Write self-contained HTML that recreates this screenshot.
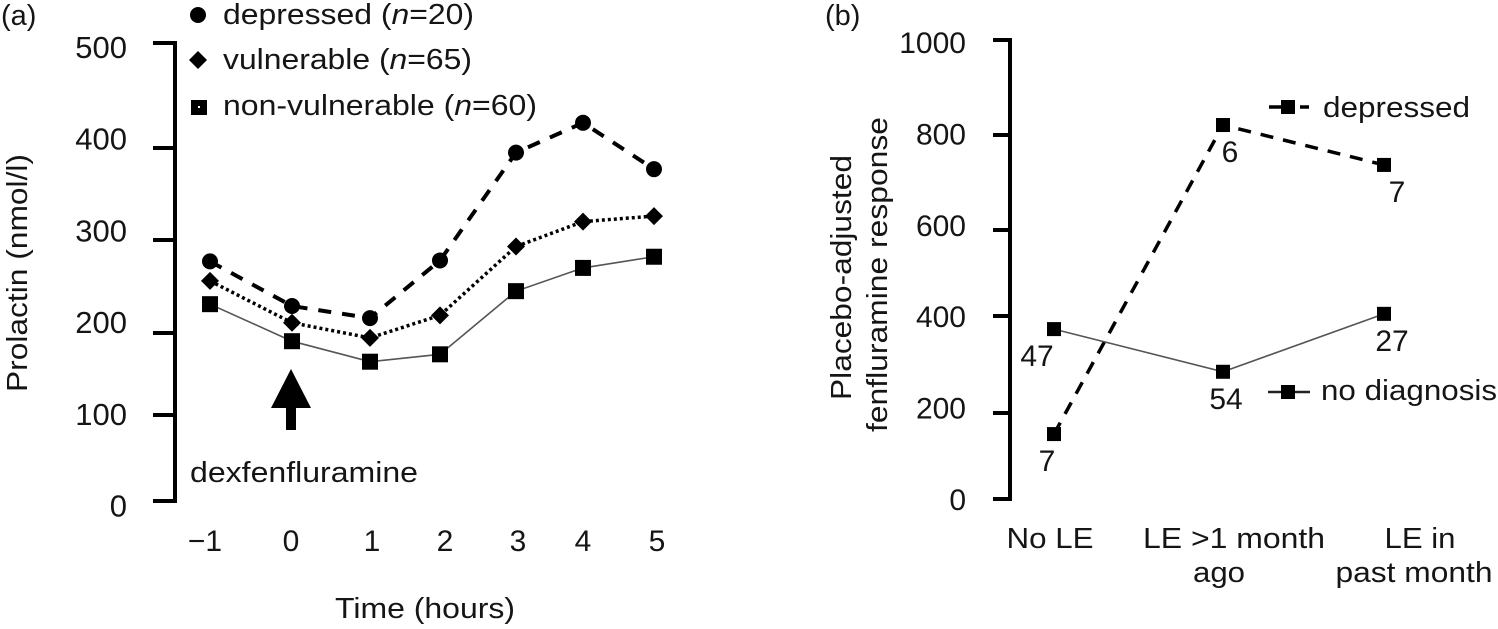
<!DOCTYPE html>
<html>
<head>
<meta charset="utf-8">
<title>Prolactin response and placebo-adjusted fenfluramine response</title>
<style>
html,body{margin:0;padding:0;background:#fff;}
svg{display:block;}
text{font-family:"Liberation Sans",sans-serif;font-size:29px;fill:#151515;}
</style>
</head>
<body>
<svg id="figure" xmlns="http://www.w3.org/2000/svg" width="1498" height="629" viewBox="0 0 1498 629">
  <text x="1" y="25">(a)</text>
  <text x="825" y="25">(b)</text>

  <text transform="translate(27,392) rotate(-90)" textLength="238" lengthAdjust="spacingAndGlyphs">Prolactin (nmol/l)</text>
  <text x="425" y="618" text-anchor="middle" textLength="180" lengthAdjust="spacingAndGlyphs">Time (hours)</text>
  <text x="190" y="482" textLength="228" lengthAdjust="spacingAndGlyphs">dexfenfluramine</text>
  <path d="M291 369 L311 408 L296 408 L296 430 L286 430 L286 408 L271 408 Z" fill="#000"/>

  <g>
    <circle cx="198" cy="15" r="8" fill="#000"/>
    <text x="223" y="24" textLength="251" lengthAdjust="spacingAndGlyphs">depressed (<tspan font-style="italic">n</tspan>=20)</text>
    <path d="M198 51 L207 60 L198 69 L189 60 Z" fill="#000"/>
    <text x="223" y="69" textLength="249" lengthAdjust="spacingAndGlyphs">vulnerable (<tspan font-style="italic">n</tspan>=65)</text>
    <rect x="191" y="100" width="16" height="15" fill="#000"/>
    <rect x="198" y="106" width="2" height="2" fill="#fff"/>
    <text x="223" y="115" textLength="314" lengthAdjust="spacingAndGlyphs">non-vulnerable (<tspan font-style="italic">n</tspan>=60)</text>
  </g>

  <text transform="translate(851,400) rotate(-90)" textLength="245" lengthAdjust="spacingAndGlyphs">Placebo-adjusted</text>
  <text transform="translate(887,432) rotate(-90)" textLength="315" lengthAdjust="spacingAndGlyphs">fenfluramine response</text>

  <g>
    <line x1="1269" y1="107" x2="1309" y2="107" stroke="#000" stroke-width="3.5" stroke-dasharray="22 9 9 0"/>
    <rect x="1281" y="100" width="14" height="14" fill="#000"/>
    <text x="1323" y="117" textLength="147" lengthAdjust="spacingAndGlyphs">depressed</text>
    <line x1="1268" y1="392" x2="1310" y2="392" stroke="#222" stroke-width="2.5"/>
    <rect x="1281" y="385" width="14" height="14" fill="#000"/>
    <text x="1321" y="400" textLength="176" lengthAdjust="spacingAndGlyphs">no diagnosis</text>
  </g>

  <g>
    <text x="1050" y="548" text-anchor="middle" textLength="87" lengthAdjust="spacingAndGlyphs">No LE</text>
    <text x="1234" y="548" text-anchor="middle" textLength="182" lengthAdjust="spacingAndGlyphs">LE &gt;1 month</text>
    <text x="1219" y="582" text-anchor="middle" textLength="52" lengthAdjust="spacingAndGlyphs">ago</text>
    <text x="1420" y="548" text-anchor="middle" textLength="71" lengthAdjust="spacingAndGlyphs">LE in</text>
    <text x="1414" y="582" text-anchor="middle" textLength="157" lengthAdjust="spacingAndGlyphs">past month</text>
  </g>
</svg>

<script>
// Panel (a) data
const hours = [-1, 0, 1, 2, 3, 4, 5];
const hourLabels = ['\u22121', '0', '1', '2', '3', '4', '5'];
const prolactinTicks = [0, 100, 200, 300, 400, 500];
const depressedProlactin = [277, 229, 216, 278, 395, 424, 377];
const vulnerableProlactin = [256, 211, 194, 219, 293, 320, 326];
const nonVulnerableProlactin = [231, 190, 165, 174, 245, 270, 282];

// Panel (b) data
const lifeEvents = ['No LE', 'LE >1 month ago', 'LE in past month'];
const responseTicks = [0, 200, 400, 600, 800, 1000];
const depressedResponse = [151, 821, 737];
const noDiagnosisResponse = [373, 285, 405];
const depressedCounts = [7, 6, 7];
const noDiagnosisCounts = [47, 54, 27];

const svg = document.getElementById('figure');
const NS = 'http://www.w3.org/2000/svg';

function mk(tag, attrs, parent) {
  const el = document.createElementNS(NS, tag);
  for (const k in attrs) el.setAttribute(k, attrs[k]);
  (parent || svg).appendChild(el);
  return el;
}

// The scanned axes are slightly uneven, so each axis is a piecewise scale.
function piecewise(domain, range) {
  return function (v) {
    let i = 0;
    while (i < domain.length - 2 && v > domain[i + 1]) i++;
    const t = (v - domain[i]) / (domain[i + 1] - domain[i]);
    return range[i] + t * (range[i + 1] - range[i]);
  };
}

const xA = piecewise(hours, [210, 292, 370, 440, 516, 583, 654]);
const xALabel = piecewise(hours, [205, 291, 372, 445, 518, 583, 657]);
const yA = piecewise(prolactinTicks, [501, 415, 333, 240, 148, 43]);
const yALabel = function (v) { return 516.5 - v * 0.917; };
const xB = piecewise([0, 1, 2], [1054, 1223, 1384]);
const yB = piecewise(responseTicks, [499, 413, 316, 230, 135, 40]);
const yBLabel = function (v) { return 510 - v * 0.457; };

function polyPoints(values, xs, xf, yf) {
  return values.map(function (v, i) { return xf(xs[i]) + ',' + yf(v); }).join(' ');
}

// Panel (a) axis
const axisA = mk('g', {});


const axisALine = mk('line', {x1: 175, x2: 175, y1: yA(500) - 2, y2: yA(0) + 2, stroke: '#000', 'stroke-width': 4}, axisA);


prolactinTicks.forEach(function (t) {
  const tick = mk('line', {x1: 153, x2: 175, y1: yA(t), y2: yA(t), stroke: '#000', 'stroke-width': 4}, axisA);
  
  
  const lab = mk('text', {x: 127, y: yALabel(t), 'text-anchor': 'end', style: 'font-size:31px'}, axisA);
  lab.textContent = t;
  
  
});
hours.forEach(function (h, i) {
  const lab = mk('text', {x: xALabel(h), y: 551, 'text-anchor': 'middle', style: 'font-size:30px'});
  lab.textContent = hourLabels[i];
  
  
});

// Panel (a) series
const lineDep = mk('polyline', {points: polyPoints(depressedProlactin, hours, xA, yA), fill: 'none', stroke: '#000', 'stroke-width': 4, 'stroke-dasharray': '13 11'});


const lineVul = mk('polyline', {points: polyPoints(vulnerableProlactin, hours, xA, yA), fill: 'none', stroke: '#000', 'stroke-width': 3.5, 'stroke-dasharray': '3 3'});


const lineNon = mk('polyline', {points: polyPoints(nonVulnerableProlactin, hours, xA, yA), fill: 'none', stroke: '#555', 'stroke-width': 1.6});



hours.forEach(function (h, i) {
  const px = xA(h);
  const c = mk('circle', {cx: px, cy: yA(depressedProlactin[i]), r: 8, fill: '#000'});
  
  
  const dy = yA(vulnerableProlactin[i]);
  const d = mk('path', {d: 'M' + px + ' ' + (dy - 9) + ' L' + (px + 9) + ' ' + dy + ' L' + px + ' ' + (dy + 9) + ' L' + (px - 9) + ' ' + dy + ' Z', fill: '#000'});
  
  
  const s = mk('rect', {x: px - 8, y: yA(nonVulnerableProlactin[i]) - 8, width: 16, height: 16, fill: '#000'});
  
  
});

// Panel (b) axis
const axisB = mk('g', {});


const axisBLine = mk('line', {x1: 1010, x2: 1010, y1: yB(1000) - 2, y2: yB(0) + 2, stroke: '#000', 'stroke-width': 4}, axisB);


responseTicks.forEach(function (t) {
  const tick = mk('line', {x1: 993, x2: 1010, y1: yB(t), y2: yB(t), stroke: '#000', 'stroke-width': 4}, axisB);
  
  
  const lab = mk('text', {x: 966, y: yBLabel(t), 'text-anchor': 'end', style: 'font-size:30px'}, axisB);
  lab.textContent = t;
  
  
});

// Panel (b) series
const idx = lifeEvents.map(function (_, i) { return i; });
const lineBDep = mk('polyline', {points: polyPoints(depressedResponse, idx, xB, yB), fill: 'none', stroke: '#000', 'stroke-width': 3.5, 'stroke-dasharray': '13 10'});


const lineBNo = mk('polyline', {points: polyPoints(noDiagnosisResponse, idx, xB, yB), fill: 'none', stroke: '#555', 'stroke-width': 1.6});



const depOffsetX = [-7, 7, 13];
const noOffsetX = [-17, 3, 8];
idx.forEach(function (i) {
  const px = xB(i);
  const a = mk('rect', {x: px - 7, y: yB(depressedResponse[i]) - 7, width: 14, height: 14, fill: '#000'});
  
  
  const b = mk('rect', {x: px - 7, y: yB(noDiagnosisResponse[i]) - 7, width: 14, height: 14, fill: '#000'});
  
  
  const la = mk('text', {x: px + depOffsetX[i], y: yB(depressedResponse[i]) + 37, 'text-anchor': 'middle', style: 'font-size:30px'});
  la.textContent = depressedCounts[i];
  
  
  const lb = mk('text', {x: px + noOffsetX[i], y: yB(noDiagnosisResponse[i]) + 37, 'text-anchor': 'middle', style: 'font-size:30px'});
  lb.textContent = noDiagnosisCounts[i];
  
  
});
</script>
</body>
</html>
